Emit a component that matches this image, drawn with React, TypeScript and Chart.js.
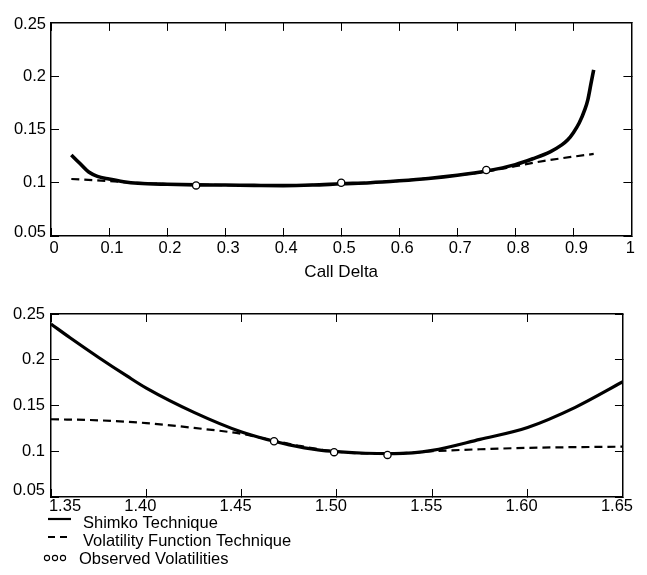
import { useEffect, useRef } from 'react';
import { Chart, registerables } from 'chart.js';

Chart.register(...registerables);

const FONT = "'Liberation Sans', Arial, Helvetica, sans-serif";

// ---------- Top panel (x = call delta) ----------
const topShimkoX = [0.035, 0.05, 0.065, 0.08, 0.1, 0.125, 0.15, 0.2, 0.25, 0.3, 0.35, 0.4, 0.45, 0.5, 0.55, 0.6, 0.65, 0.7, 0.75, 0.8, 0.83, 0.86, 0.88, 0.89, 0.9, 0.91, 0.92, 0.925, 0.93, 0.935];
const topShimkoY = [0.126, 0.118, 0.11, 0.106, 0.1035, 0.101, 0.0995, 0.0985, 0.098, 0.0978, 0.0975, 0.0973, 0.0978, 0.099, 0.1, 0.1018, 0.104, 0.107, 0.111, 0.117, 0.1225, 0.129, 0.1355, 0.14, 0.147, 0.156, 0.169, 0.178, 0.192, 0.206];
const topVolFnX = [0.035, 0.1, 0.15, 0.2, 0.3, 0.4, 0.5, 0.6, 0.7, 0.75, 0.8, 0.85, 0.9, 0.935];
const topVolFnY = [0.1035, 0.1015, 0.0998, 0.0988, 0.0978, 0.0975, 0.099, 0.1018, 0.107, 0.1105, 0.1155, 0.1205, 0.1245, 0.127];
const topObsX = [0.25, 0.5, 0.75];
const topObsY = [0.0975, 0.1, 0.112];
const topXTicks = [0, 0.1, 0.2, 0.3, 0.4, 0.5, 0.6, 0.7, 0.8, 0.9, 1];
const topXTickLabels = ['0', '0.1', '0.2', '0.3', '0.4', '0.5', '0.6', '0.7', '0.8', '0.9', '1'];
const topXTitle = 'Call Delta';

// ---------- Bottom panel (x = strike) ----------
const botShimkoX = [1.35, 1.36, 1.375, 1.39, 1.4, 1.425, 1.45, 1.465, 1.475, 1.49, 1.5, 1.515, 1.53, 1.55, 1.575, 1.6, 1.625, 1.65];
const botShimkoY = [0.239, 0.224, 0.2025, 0.182, 0.169, 0.1425, 0.121, 0.112, 0.107, 0.1015, 0.0995, 0.0978, 0.0975, 0.101, 0.113, 0.126, 0.148, 0.176];
const botVolFnX = [1.35, 1.375, 1.4, 1.425, 1.45, 1.465, 1.48, 1.5, 1.52, 1.54, 1.55, 1.575, 1.6, 1.625, 1.65];
const botVolFnY = [0.135, 0.1338, 0.1308, 0.1255, 0.119, 0.1125, 0.106, 0.0995, 0.0975, 0.0985, 0.1, 0.1022, 0.1037, 0.1045, 0.105];
const botObsX = [1.467, 1.4985, 1.5265];
const botObsY = [0.111, 0.099, 0.096];
const botXTicks = [1.35, 1.4, 1.45, 1.5, 1.55, 1.6, 1.65];
const botXTickLabels = ['1.35', '1.40', '1.45', '1.50', '1.55', '1.60', '1.65'];

// ---------- Shared y axis ----------
const yTicks = [0.05, 0.1, 0.15, 0.2, 0.25];
const yTickLabels = ['0.05', '0.1', '0.15', '0.2', '0.25'];

const legendLabels = ['Shimko Technique', 'Volatility Function Technique', 'Observed Volatilities'];

const pts = (xs: number[], ys: number[]) => xs.map((x, i) => ({ x, y: ys[i] }));

function makeDatasets(sx: number[], sy: number[], vx: number[], vy: number[], ox: number[], oy: number[], solidWidth: number) {
  return [
    {
      label: legendLabels[2],
      data: pts(ox, oy),
      showLine: false,
      pointRadius: 3.6,
      pointBorderWidth: 1.3,
      pointBorderColor: '#000',
      pointBackgroundColor: '#fff',
      pointStyle: 'circle',
      order: 0,
    },
    {
      label: legendLabels[0],
      data: pts(sx, sy),
      borderColor: '#000',
      borderWidth: solidWidth,
      pointRadius: 0,
      cubicInterpolationMode: 'monotone',
      fill: false,
      order: 1,
    },
    {
      label: legendLabels[1],
      data: pts(vx, vy),
      borderColor: '#000',
      borderWidth: 2.2,
      borderDash: [8, 5],
      pointRadius: 0,
      cubicInterpolationMode: 'monotone',
      fill: false,
      order: 2,
    },
  ];
}

function makeScales(o: {
  xMin: number; xMax: number; xTicks: number[]; xLabels: string[];
  xPad: number; xHeight: number; labelOffset: number; yPad: number; title?: any;
}) {
  const grid = { drawOnChartArea: false, drawTicks: true, tickLength: -8, color: '#000', lineWidth: 1 };
  const border = { display: true, color: '#000', width: 1.5 };
  const tickFont = { family: FONT, size: 16.5 };
  return {
    x: {
      type: 'linear', position: 'bottom', min: o.xMin, max: o.xMax,
      afterBuildTicks: (s: any) => { s.ticks = o.xTicks.map((v) => ({ value: v })); },
      afterFit: (s: any) => { s.height = o.xHeight; },
      grid, border,
      ticks: {
        callback: (_v: any, i: number) => o.xLabels[i],
        font: tickFont, color: '#000', padding: o.xPad, labelOffset: o.labelOffset,
        maxRotation: 0, minRotation: 0, autoSkip: false,
      },
      title: o.title || { display: false },
    },
    x2: {
      type: 'linear', axis: 'x', position: 'top', min: o.xMin, max: o.xMax,
      afterBuildTicks: (s: any) => { s.ticks = o.xTicks.map((v) => ({ value: v })); },
      afterFit: (s: any) => { s.height = 0; },
      grid, border,
      ticks: { display: false },
    },
    y: {
      type: 'linear', position: 'left', min: 0.05, max: 0.25,
      afterBuildTicks: (s: any) => { s.ticks = yTicks.map((v) => ({ value: v })); },
      afterFit: (s: any) => { s.width = 51; },
      grid, border,
      ticks: {
        callback: (_v: any, i: number) => yTickLabels[i],
        font: tickFont, color: '#000', padding: o.yPad,
      },
    },
    y2: {
      type: 'linear', axis: 'y', position: 'right', min: 0.05, max: 0.25,
      afterBuildTicks: (s: any) => { s.ticks = yTicks.map((v) => ({ value: v })); },
      afterFit: (s: any) => { s.width = 0; },
      grid, border,
      ticks: { display: false },
    },
  };
}

// Small nudges of individual tick labels near the frame corners (as in the printed figure)
function labelNudge(nudges: { x?: Record<number, [number, number]>; y?: Record<number, [number, number]> }) {
  return {
    id: 'labelNudge',
    beforeDraw(chart: any) {
      (['x', 'y'] as const).forEach((axis) => {
        const scale = chart.scales[axis];
        const n = nudges[axis];
        if (!scale || !n) return;
        const items = scale.getLabelItems(chart.chartArea);
        Object.keys(n).forEach((k) => {
          const idx = Number(k);
          const it = items[idx];
          if (it && it.options && it.options.translation) {
            it.options.translation[0] += n[idx][0];
            it.options.translation[1] += n[idx][1];
          }
        });
      });
    },
  };
}

const stackedLegend = {
  id: 'stackedLegend',
  afterDraw(chart: any) {
    const ctx = chart.ctx as CanvasRenderingContext2D;
    const base = chart.chartArea.bottom;
    const textX = 83;
    const rows = [
      { y: base + 26, kind: 'solid', text: legendLabels[0] },
      { y: base + 44, kind: 'dash', text: legendLabels[1] },
      { y: base + 62, kind: 'obs', text: legendLabels[2] },
    ];
    ctx.save();
    rows.forEach((r) => {
      ctx.strokeStyle = '#000';
      if (r.kind === 'solid' || r.kind === 'dash') {
        ctx.beginPath();
        ctx.lineWidth = r.kind === 'solid' ? 2.2 : 2;
        ctx.setLineDash(r.kind === 'dash' ? [7, 5] : []);
        ctx.moveTo(48, r.y - 4);
        ctx.lineTo(71, r.y - 4);
        ctx.stroke();
        ctx.setLineDash([]);
      } else {
        ctx.lineWidth = 1.1;
        [47, 55, 63].forEach((cx) => {
          ctx.beginPath();
          ctx.arc(cx, r.y - 1, 2.6, 0, Math.PI * 2);
          ctx.stroke();
        });
      }
      ctx.fillStyle = '#000';
      ctx.font = `16.5px ${FONT}`;
      ctx.textBaseline = 'middle';
      ctx.textAlign = 'left';
      ctx.fillText(r.text, r.kind === 'obs' ? 79 : textX, r.y);
    });
    ctx.restore();
  },
};

export default function App() {
  const topRef = useRef<HTMLCanvasElement>(null);
  const botRef = useRef<HTMLCanvasElement>(null);

  useEffect(() => {
    const common = {
      animation: false as const,
      responsive: false,
      maintainAspectRatio: false,
      events: [] as any[],
      plugins: { legend: { display: false }, tooltip: { enabled: false } },
    };
    const top = new Chart(topRef.current!, {
      type: 'line',
      data: { datasets: makeDatasets(topShimkoX, topShimkoY, topVolFnX, topVolFnY, topObsX, topObsY, 3.6) as any },
      options: {
        ...common,
        layout: { padding: { left: 0, right: 15, top: 14, bottom: 4 } },
        scales: makeScales({
          xMin: 0, xMax: 1, xTicks: topXTicks, xLabels: topXTickLabels,
          xPad: 11, xHeight: 50, labelOffset: 3, yPad: 13,
          title: { display: true, text: topXTitle, color: '#000', font: { family: FONT, size: 17 }, padding: { top: 0, bottom: 3 } },
        }) as any,
      },
      plugins: [labelNudge({ x: { 10: [-4, 0] }, y: { 0: [0, -4], 4: [0, 2] } })],
    });
    const bot = new Chart(botRef.current!, {
      type: 'line',
      data: { datasets: makeDatasets(botShimkoX, botShimkoY, botVolFnX, botVolFnY, botObsX, botObsY, 3.2) as any },
      options: {
        ...common,
        layout: { padding: { left: 0, right: 23, top: 24, bottom: 0 } },
        scales: makeScales({
          xMin: 1.35, xMax: 1.65, xTicks: botXTicks, xLabels: botXTickLabels,
          xPad: 8, xHeight: 78, labelOffset: -6, yPad: 14,
        }) as any,
      },
      plugins: [labelNudge({ x: { 0: [20, 0] }, y: { 0: [0, -7] } }), stackedLegend],
    });
    return () => { top.destroy(); bot.destroy(); };
  }, []);

  return (
    <div style={{ position: 'absolute', left: 0, top: 0, width: 647, height: 575, background: '#fff' }}>
      <canvas ref={topRef} width={647} height={290} style={{ position: 'absolute', left: 0, top: 0, width: 647, height: 290 }} />
      <canvas ref={botRef} width={647} height={285} style={{ position: 'absolute', left: 0, top: 290, width: 647, height: 285 }} />
    </div>
  );
}
